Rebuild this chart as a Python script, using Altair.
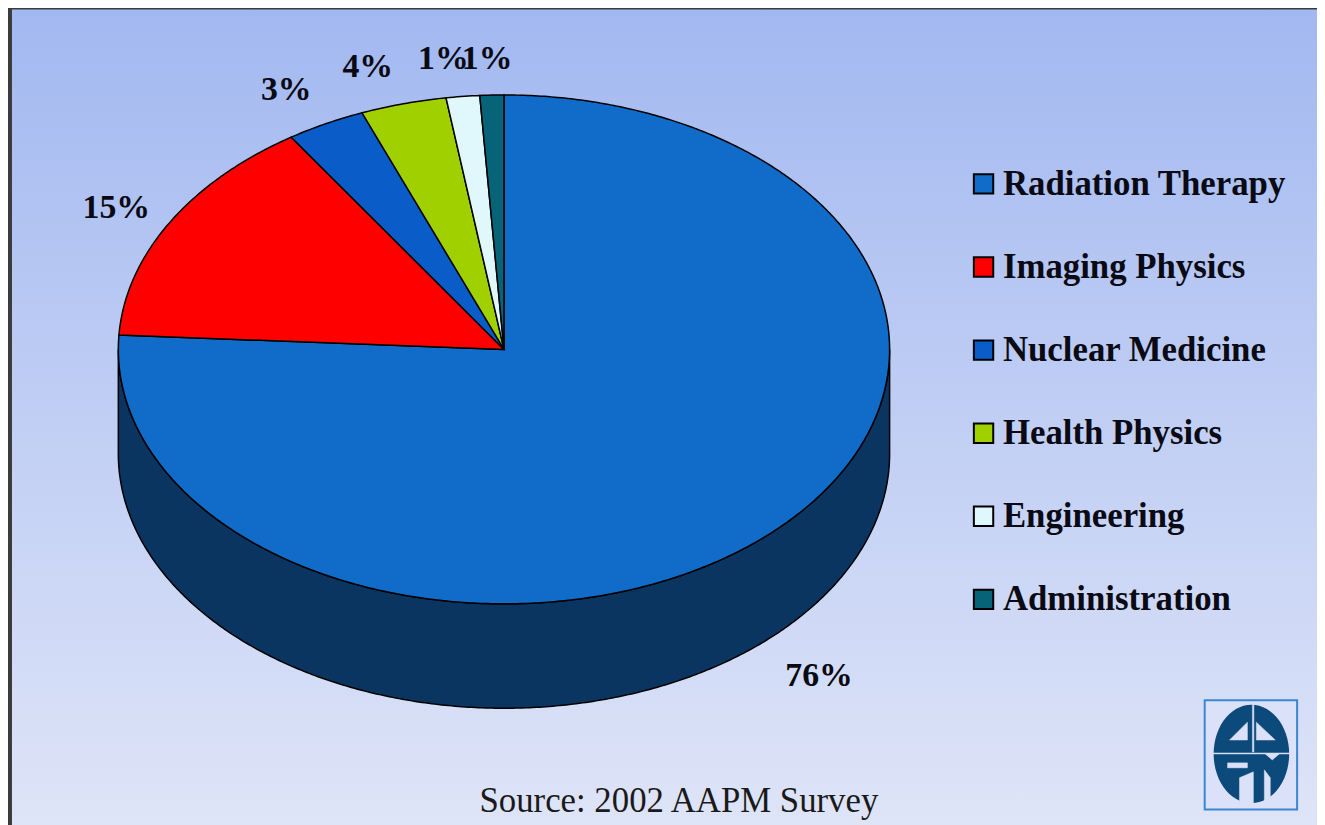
import numpy as np
import pandas as pd
import altair as alt

# ---- data
fields = ["Radiation Therapy", "Imaging Physics", "Nuclear Medicine",
          "Health Physics", "Engineering", "Administration"]
shares = [75.9, 14.8, 3.3, 3.6, 1.4, 1.0]
colors = ["#106cc8", "#ff0000", "#0a5cc8", "#a0d000", "#e0f8fb", "#076378"]
label_x = [824, 117, 288, 370, 446, 490]
label_y = [678, 207, 88, 65, 57, 57]
source_text = "Source: 2002 AAPM Survey"

# ---- layout (page pixels)
W, H = 1317, 817
CX, CY, RX, RY, DEPTH = 507, 349, 388, 256, 105
SERIF = "Liberation Serif"

xs = alt.Scale(domain=[8, 8 + W], range=[0, W], nice=False, zero=False)
ys = alt.Scale(domain=[8, 8 + H], range=[0, H], nice=False, zero=False)
X = lambda f="x": alt.X(f"{f}:Q", scale=xs, axis=None)
Y = lambda f="y": alt.Y(f"{f}:Q", scale=ys, axis=None)


def rim(a0, a1, dy=0.0):
    t = np.radians(np.linspace(a0, a1, max(3, int(abs(a1 - a0) * 2))))
    return list(zip(CX + RX * np.sin(t), CY - RY * np.cos(t) + dy))


rows = []
cum = 0.0
for name, share in zip(fields, shares):
    a0, a1 = cum * 3.6, (cum + share) * 3.6
    pts = [(CX, CY)] + rim(a0, a1)
    rows += [{"field": name, "i": i, "x": p[0], "y": p[1]} for i, p in enumerate(pts)]
    cum += share
slices = pd.DataFrame(rows)

side_pts = rim(90, 270, DEPTH) + rim(270, 90)
side = pd.DataFrame([{"i": i, "x": p[0], "y": p[1]} for i, p in enumerate(side_pts)])

bg = pd.DataFrame({"x": [12], "x2": [8 + W + 10], "y": [7], "y2": [8 + H + 10]})
background = alt.Chart(bg).mark_rect(
    fill=alt.Gradient(
        gradient="linear", x1=0, x2=0, y1=0, y2=1,
        stops=[alt.GradientStop(color="#a2b8f0", offset=0),
               alt.GradientStop(color="#dfe5f8", offset=1)],
    ),
    strokeWidth=0,
).encode(x=X(), x2="x2:Q", y=Y(), y2="y2:Q")

side_layer = alt.Chart(side).mark_line(
    fill="#0a3560", stroke="black", strokeWidth=1.5, interpolate="linear-closed"
).encode(x=X(), y=Y(), order="i:Q")

slice_layer = alt.Chart(slices).mark_line(
    stroke="black", strokeWidth=1.5, interpolate="linear-closed"
).encode(
    x=X(), y=Y(), order="i:Q",
    fill=alt.Fill(
        "field:N",
        scale=alt.Scale(domain=fields, range=colors),
        sort=fields,
        legend=alt.Legend(
            title=None, orient="none", legendX=964, legendY=157,
            symbolType="square", symbolSize=380, symbolStrokeColor="black",
            symbolStrokeWidth=2, symbolOpacity=1, labelFont=SERIF,
            labelFontWeight="bold", labelFontSize=35, labelColor="#0a0a14",
            labelLimit=400, labelOffset=2, rowPadding=47.6, columnPadding=0,
            padding=0,
        ),
    ),
)

labels = pd.DataFrame({
    "t": [f"{round(s)}%" for s in shares], "x": label_x, "y": label_y,
})
label_layer = alt.Chart(labels).mark_text(
    font=SERIF, fontWeight="bold", fontSize=34, color="#0a0a14",
    align="center", baseline="middle",
).encode(x=X(), y=Y(), text="t:N")

source = pd.DataFrame({"t": [source_text], "x": [683], "y": [803]})
source_layer = alt.Chart(source).mark_text(
    font=SERIF, fontSize=35, color="#1a1a1a", align="center", baseline="middle",
).encode(x=X(), y=Y(), text="t:N")

# ---- AAPM logo
box = pd.DataFrame({"x": [1212], "x2": [1305], "y": [702], "y2": [812]})
box_layer = alt.Chart(box).mark_rect(
    fill="#dae1f8", stroke="#3a86d0", strokeWidth=2
).encode(x=X(), x2="x2:Q", y=Y(), y2="y2:Q")

t = np.radians(np.arange(0, 360, 6))
oval = pd.DataFrame({"x": 1259 + 37 * np.sin(t), "y": 756 - 48.5 * np.cos(t), "i": np.arange(len(t))})
oval_layer = alt.Chart(oval).mark_line(
    fill="#0b4a7a", stroke="#0b4a7a", interpolate="linear-closed"
).encode(x=X(), y=Y(), order="i:Q")

cuts = [
    [(1237, 742), (1255, 742), (1255, 724)],
    [(1264, 742), (1283, 742), (1264, 724)],
    [(1260, 706), (1261.5, 706), (1261.5, 754), (1260, 754)],
    [(1220, 755), (1298, 755), (1298, 756), (1220, 756)],
    [(1235, 765), (1255, 765), (1255, 770), (1235, 770)],
    [(1247, 780), (1261, 774), (1261, 806), (1247, 806)],
    [(1273, 756), (1287, 756), (1280, 762)],
    [(1272, 772), (1278, 780), (1278, 800), (1272, 806)],
]
cut_rows = [{"c": k, "i": i, "x": p[0], "y": p[1]} for k, c in enumerate(cuts) for i, p in enumerate(c)]
cut_layer = alt.Chart(pd.DataFrame(cut_rows)).mark_line(
    fill="#dae1f8", stroke="#dae1f8", strokeWidth=0.5, interpolate="linear-closed"
).encode(x=X(), y=Y(), order="i:Q", detail="c:N")

chart = alt.layer(
    background, side_layer, slice_layer, label_layer, source_layer,
    box_layer, oval_layer, cut_layer,
).resolve_scale(fill="independent").properties(
    width=W, height=H, padding=0, background="#3b3b3b", autosize=alt.AutoSizeParams(type="none")
).configure_view(stroke=None)

chart.save("out.html", embed_options={"renderer": "svg", "actions": False})
